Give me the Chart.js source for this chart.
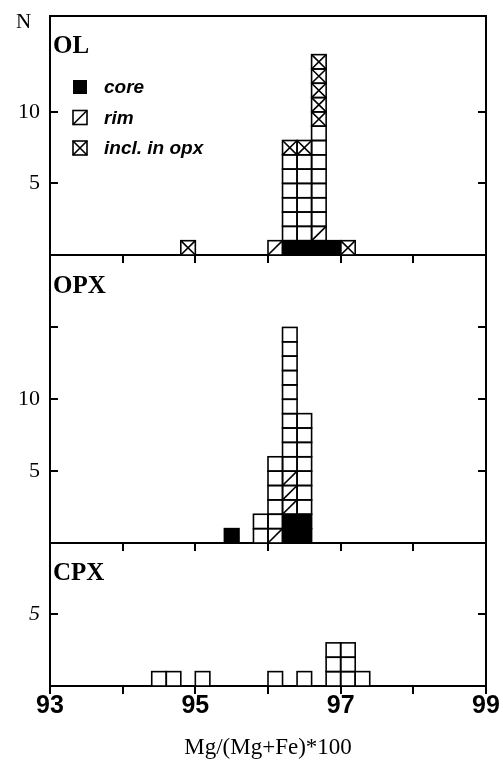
<!DOCTYPE html>
<html>
<head>
<meta charset="utf-8">
<script src="https://cdn.jsdelivr.net/npm/chart.js@4.4.0/dist/chart.umd.min.js"></script>
<style>
  html, body { margin: 0; padding: 0; background: #fff; }
  #wrap { position: relative; width: 503px; height: 762px; overflow: hidden; }
  canvas { position: absolute; left: 0; }
</style>
</head>
<body>
<div id="wrap">
  <canvas id="olChart" width="503" height="266" style="top:0px"></canvas>
  <canvas id="opxChart" width="503" height="297" style="top:257px"></canvas>
  <canvas id="cpxChart" width="503" height="214" style="top:548px"></canvas>
</div>
<script>
// histogram bins are 0.2 wide, given by their left edge
var olBins   = [94.8, 96.0, 96.2, 96.4, 96.6, 96.8, 97.0];
var olCore   = [0, 0, 1, 1, 1, 1, 0];
var olRim    = [0, 1, 0, 0, 1, 0, 0];
var olOther  = [0, 0, 6, 6, 7, 0, 0];
var olIncl   = [1, 0, 1, 1, 5, 0, 1];

var opxBins  = [95.4, 95.8, 96.0, 96.2, 96.4];
var opxCore  = [1, 0, 0, 2, 2];
var opxRim   = [0, 0, 1, 3, 0];
var opxOther = [0, 2, 5, 10, 7];

var cpxBins  = [94.4, 94.6, 95.0, 96.0, 96.4, 96.8, 97.0, 97.2];
var cpxOther = [1, 1, 1, 1, 1, 3, 3, 1];

var binWidth = 0.2;
var xLabels = [93, 95, 97, 99];
var olYTicks = [5, 10];
var opxYTicks = [5, 10, 15];
var opxYLabels = [5, 10];
var cpxYTicks = [5];

var serif = '"Liberation Serif", "Times New Roman", serif';
var sans = '"Liberation Sans", Arial, sans-serif';

function series(label, mark, bins, counts, fill) {
  return {
    label: label,
    mark: mark,
    xAxisID: 'x',
    yAxisID: 'y',
    data: bins.map(function(b, i) { return { x: b + binWidth / 2, y: counts[i] || null }; }),
    backgroundColor: fill,
    borderWidth: 0,
    barPercentage: 1,
    categoryPercentage: 1
  };
}

// draws every unit square of the stacked bars, with the rim / inclusion marks
var squares = {
  id: 'squares',
  afterDatasetsDraw: function(chart) {
    var ctx = chart.ctx;
    ctx.save();
    ctx.strokeStyle = '#000';
    ctx.lineWidth = 1.6;
    chart.data.datasets.forEach(function(ds, di) {
      var meta = chart.getDatasetMeta(di);
      meta.data.forEach(function(bar, i) {
        var n = ds.data[i].y;
        if (!n) return;
        var p = bar.getProps(['x', 'y', 'base', 'width'], true);
        var l = p.x - p.width / 2, r = p.x + p.width / 2;
        var h = (p.base - p.y) / n;
        for (var k = 0; k < n; k++) {
          var b = p.base - k * h, t = b - h;
          ctx.strokeRect(l, t, r - l, h);
          ctx.beginPath();
          if (ds.mark === 'rim' || ds.mark === 'incl') { ctx.moveTo(l, b); ctx.lineTo(r, t); }
          if (ds.mark === 'incl') { ctx.moveTo(l, t); ctx.lineTo(r, b); }
          ctx.stroke();
        }
      });
    });
    ctx.restore();
  }
};

function legendBox(ctx, mark, x, y, s) {
  if (mark === 'core') { ctx.fillRect(x, y, s, s); return; }
  ctx.strokeRect(x, y, s, s);
  ctx.beginPath();
  ctx.moveTo(x, y + s); ctx.lineTo(x + s, y);
  if (mark === 'incl') { ctx.moveTo(x, y); ctx.lineTo(x + s, y + s); }
  ctx.stroke();
}

// panel name, the "N" and the legend of the OL panel
var panelText = {
  id: 'panelText',
  afterDraw: function(chart, args, o) {
    var ctx = chart.ctx, a = chart.chartArea;
    ctx.save();
    ctx.fillStyle = '#000';
    ctx.strokeStyle = '#000';
    ctx.textBaseline = 'alphabetic';
    ctx.textAlign = 'left';
    ctx.font = 'bold 25px ' + serif;
    ctx.fillText(o.name, a.left + 3, a.top + o.nameY);
    if (o.showN) {
      ctx.font = '21px ' + serif;
      ctx.fillText('N', 16, a.top + 12);
    }
    if (o.legend) {
      ctx.lineWidth = 1.6;
      ctx.font = 'italic bold 19px ' + sans;
      ctx.textBaseline = 'middle';
      var j = 0;
      chart.data.datasets.forEach(function(ds) {
        if (ds.mark === 'other') return;
        var yc = a.top + 71 + j * 30.5;
        legendBox(ctx, ds.mark, 73, yc - 7, 14);
        ctx.fillText(ds.label, 104, yc + 1);
        j++;
      });
    }
    ctx.restore();
  }
};

function noPad(s) { s.paddingTop = 0; s.paddingBottom = 0; s.paddingLeft = 0; s.paddingRight = 0; }

function makeChart(id, datasets, cfg) {
  var tickFont = { family: serif, size: 22, style: cfg.italicY ? 'italic' : 'normal' };
  var setTicks = function(s) { s.ticks = cfg.yTicks.map(function(v) { return { value: v }; }); };
  var grid = { display: true, drawOnChartArea: false, drawTicks: true, tickLength: -8, color: '#000', lineWidth: 2 };
  var border = { display: true, color: '#000', width: 2 };
  var scales = {
    x: {
      type: 'linear', position: 'bottom', min: 93, max: 99, stacked: true, offset: false, bounds: 'data',
      ticks: {
        display: cfg.showX, stepSize: 1, autoSkip: false, maxRotation: 0, padding: 0, color: '#000',
        font: { family: sans, size: 25, weight: 'bold', lineHeight: 1 },
        callback: function(v) { return xLabels.indexOf(v) >= 0 ? String(v) : ''; }
      },
      grid: { display: true, drawOnChartArea: false, drawTicks: true, tickLength: 8, color: '#000', lineWidth: 2, offset: false },
      border: border,
      title: {
        display: !!cfg.xTitle, text: cfg.xTitle || '', color: '#000',
        font: { family: serif, size: 23 }, padding: { top: 0, bottom: 0 }
      },
      afterFit: function(s) { s.height = cfg.xHeight; noPad(s); }
    },
    y: {
      position: 'left', min: 0, max: cfg.yMax, stacked: true, bounds: 'data',
      afterBuildTicks: setTicks,
      ticks: {
        padding: 18, color: '#000', font: tickFont,
        callback: function(v) { return cfg.yLabels.indexOf(v) >= 0 ? String(v) : ''; }
      },
      grid: grid,
      border: border,
      afterFit: function(s) { s.width = 50; noPad(s); }
    },
    yRight: {
      position: 'right', min: 0, max: cfg.yMax, bounds: 'data',
      afterBuildTicks: setTicks,
      ticks: { display: false },
      grid: grid,
      border: border,
      afterFit: function(s) { s.width = 17; noPad(s); }
    }
  };
  if (cfg.topLine) {
    scales.xTop = {
      type: 'linear', position: 'top', min: 93, max: 99, offset: false,
      ticks: { display: false }, grid: { display: false },
      border: border,
      afterFit: function(s) { s.height = 0; noPad(s); }
    };
  }
  return new Chart(document.getElementById(id), {
    type: 'bar',
    data: { datasets: datasets },
    options: {
      responsive: false,
      animation: false,
      events: [],
      layout: { padding: { top: cfg.padTop, left: 0, right: 0, bottom: 0 } },
      scales: scales,
      plugins: {
        legend: { display: false },
        tooltip: { enabled: false },
        panelText: { name: cfg.name, nameY: cfg.nameY, showN: !!cfg.showN, legend: !!cfg.legend }
      }
    },
    plugins: [squares, panelText]
  });
}

makeChart('olChart', [
  series('core', 'core', olBins, olCore, '#000'),
  series('rim', 'rim', olBins, olRim, '#fff'),
  series('other', 'other', olBins, olOther, '#fff'),
  series('incl. in opx', 'incl', olBins, olIncl, '#fff')
], { name: 'OL', nameY: 37, showN: true, legend: true, topLine: true, padTop: 16,
     yMax: 16.7, yTicks: olYTicks, yLabels: olYTicks, xHeight: 11, showX: false });

makeChart('opxChart', [
  series('core', 'core', opxBins, opxCore, '#000'),
  series('rim', 'rim', opxBins, opxRim, '#fff'),
  series('other', 'other', opxBins, opxOther, '#fff')
], { name: 'OPX', nameY: 36, padTop: 0,
     yMax: 19.9, yTicks: opxYTicks, yLabels: opxYLabels, xHeight: 11, showX: false });

makeChart('cpxChart', [
  series('other', 'other', cpxBins, cpxOther, '#fff')
], { name: 'CPX', nameY: 32, padTop: 0, italicY: true,
     yMax: 9.6, yTicks: cpxYTicks, yLabels: cpxYTicks, xHeight: 76, showX: true,
     xTitle: 'Mg/(Mg+Fe)*100' });
</script>
</body>
</html>
